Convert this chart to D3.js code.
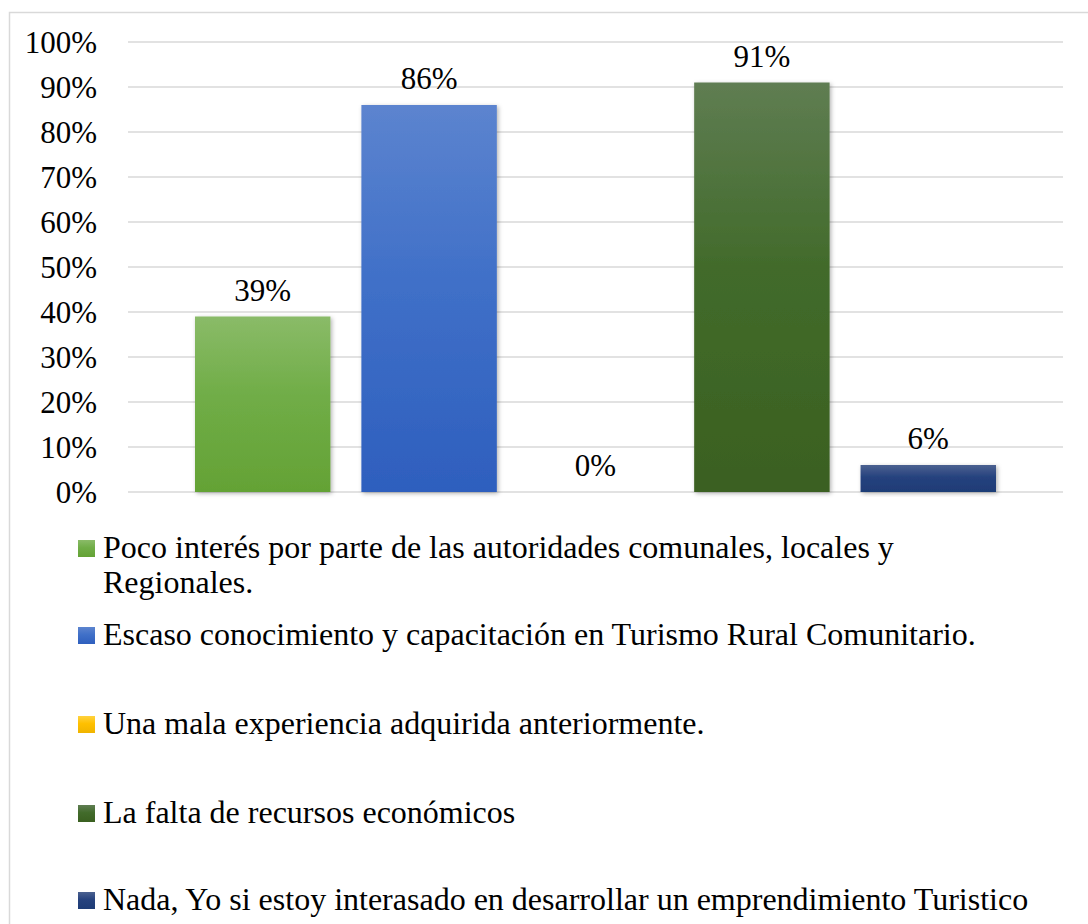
<!DOCTYPE html>
<html>
<head>
<meta charset="utf-8">
<script src="https://cdn.jsdelivr.net/npm/d3@7"></script>
<style>
  html, body { margin: 0; padding: 0; background: #fff; }
  svg { display: block; }
  text { font-family: "Liberation Serif", "Times New Roman", serif; fill: #000; }
</style>
</head>
<body>
<svg id="chart" width="1088" height="924"></svg>
<script>
const series = [
  "Poco interés por parte de las autoridades comunales, locales y\nRegionales.",
  "Escaso conocimiento y capacitación en Turismo Rural Comunitario.",
  "Una mala experiencia adquirida anteriormente.",
  "La falta de recursos económicos",
  "Nada, Yo si estoy interasado en desarrollar un emprendimiento Turistico"
];
const values = [0.39, 0.86, 0.00, 0.91, 0.06];
const valueLabels = ["39%", "86%", "0%", "91%", "6%"];
const yTicks = [0, 0.1, 0.2, 0.3, 0.4, 0.5, 0.6, 0.7, 0.8, 0.9, 1.0];
const colors = [
  ["#8abb68", "#70ad47", "#64a235"],
  ["#5c84cf", "#4070c8", "#2e5fbe"],
  ["#ffd23f", "#ffc000", "#f0b400"],
  ["#5f7d52", "#426b2b", "#3a6020"],
  ["#4b6190", "#26427e", "#1e3c76"]
];

const svg = d3.select("#chart");
const W = 1088, H = 924;
const plot = { left: 128, right: 1063, top: 42, bottom: 492 };
const serif = '"Liberation Serif", "Times New Roman", serif';

// frame
svg.append("rect").attr("x", 9.5).attr("y", 12.5).attr("width", W + 20).attr("height", H + 20)
  .attr("fill", "#fff").attr("stroke", "#d9d9d9").attr("stroke-width", 1.5);

const defs = svg.append("defs");
colors.forEach((c, i) => {
  const g = defs.append("linearGradient").attr("id", "grad" + i)
    .attr("x1", 0).attr("y1", 0).attr("x2", 0).attr("y2", 1);
  g.append("stop").attr("offset", "0%").attr("stop-color", c[0]);
  g.append("stop").attr("offset", "45%").attr("stop-color", c[1]);
  g.append("stop").attr("offset", "100%").attr("stop-color", c[2]);
});
const f = defs.append("filter").attr("id", "shadow").attr("x", "-10%").attr("y", "-10%").attr("width", "125%").attr("height", "125%");
f.append("feDropShadow").attr("dx", 1.5).attr("dy", 1.5).attr("stdDeviation", 2).attr("flood-color", "#000").attr("flood-opacity", 0.3);

const y = d3.scaleLinear().domain([0, 1]).range([plot.bottom, plot.top]);
const xSeries = d3.scaleBand().domain(d3.range(series.length))
  .range([195, 996]).paddingInner(0.186).paddingOuter(0);

// gridlines
svg.append("g").selectAll("line").data(yTicks).join("line")
  .attr("x1", plot.left).attr("x2", plot.right)
  .attr("y1", d => y(d)).attr("y2", d => y(d))
  .attr("stroke", "#d9d9d9").attr("stroke-width", 1.5);

// y axis labels
const yAxis = d3.axisLeft(y).tickValues(yTicks).tickFormat(d3.format(".0%")).tickSize(0).tickPadding(0);
const ya = svg.append("g").attr("transform", "translate(97,0)").call(yAxis)
  .attr("font-family", serif).attr("font-size", 31);
ya.select(".domain").remove();
ya.selectAll("text").attr("fill", "#000").attr("dy", "0.33em");

// bars
svg.append("g").selectAll("rect").data(values).join("rect")
  .attr("x", (d, i) => xSeries(i))
  .attr("width", xSeries.bandwidth())
  .attr("y", d => y(d))
  .attr("height", d => y(0) - y(d))
  .attr("fill", (d, i) => `url(#grad${i})`)
  .attr("filter", "url(#shadow)");

// value labels
svg.append("g").selectAll("text").data(values).join("text")
  .attr("x", (d, i) => xSeries(i) + xSeries.bandwidth() / 2)
  .attr("y", d => y(d) - 16)
  .attr("text-anchor", "middle")
  .attr("font-size", 31)
  .text((d, i) => valueLabels[i]);

// legend
const legendBase = [558, 645, 734, 823, 910];
const lg = svg.append("g");
series.forEach((s, i) => {
  const b = legendBase[i];
  lg.append("rect").attr("x", 78).attr("y", b - 18).attr("width", 17).attr("height", 17)
    .attr("fill", `url(#grad${i})`);
  const t = lg.append("text").attr("x", 103).attr("y", b).attr("font-size", 32);
  s.split("\n").forEach((line, k) => {
    t.append("tspan").attr("x", 103).attr("dy", k === 0 ? 0 : 35).text(line);
  });
});
</script>
</body>
</html>
